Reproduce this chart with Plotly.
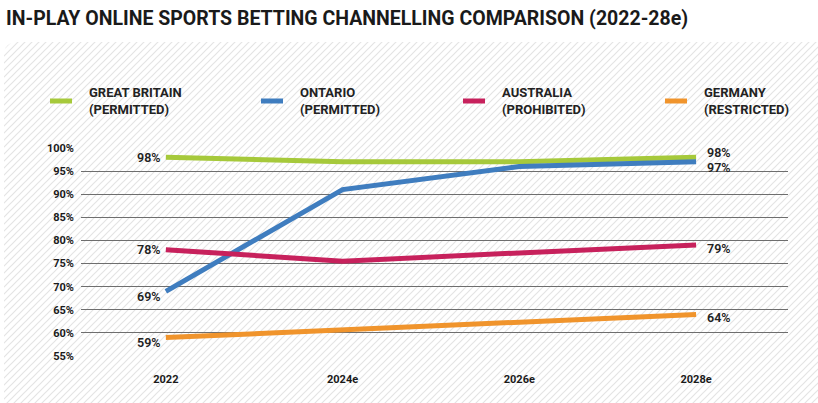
import base64
import plotly.graph_objects as go

# ---------------- data ----------------
years = ["2022", "2024e", "2026e", "2028e"]
series_names = ["GREAT BRITAIN<br>(PERMITTED)", "ONTARIO<br>(PERMITTED)",
                "AUSTRALIA<br>(PROHIBITED)", "GERMANY<br>(RESTRICTED)"]
great_britain = [98, 97, 97, 98]
ontario = [69, 91, 96, 97]
australia = [78, 75.5, 77.3, 79]
germany = [59, 60.6, 62.3, 64]
y_ticks = [55, 60, 65, 70, 75, 80, 85, 90, 95, 100]
y_tick_labels = ["55%", "60%", "65%", "70%", "75%", "80%", "85%", "90%", "95%", "100%"]

# ---------------- style ----------------
W, H = 818, 403
ML, MR, MT, MB = 81, 30, 147, 46
colors = ["#a6c93b", "#3f7dbf", "#c7215c", "#f0942c"]
first_shift = [0, -5, 0, -5]
last_shift = [5, -6, -3, -3]
legend_x0 = [50, 261, 463, 665]   # px, left of legend swatch
legend_y = 101                    # px
plot_w = W - ML - MR
plot_h = H - MT - MB


def px_x(px):
    return (px - ML) / plot_w


def px_y(py):
    return 1 + (MT - py) / plot_h


values = [great_britain, ontario, australia, germany]

fig = go.Figure()
for name, vals, col in zip(series_names, values, colors):
    fig.add_trace(go.Scatter(
        x=years, y=vals, name=name.replace("<br>", " "), mode="lines",
        line=dict(color=col, width=5),
        hoverinfo="skip", showlegend=False,
    ))

label_font = dict(family="Roboto", size=12.5, color="#222222", weight=600)
last_i = len(years) - 1
for i, vals in enumerate(values):
    fig.add_annotation(x=0, y=vals[0], text=f"{round(vals[0])}%",
                       showarrow=False, xanchor="right", yanchor="middle",
                       xshift=-3, yshift=first_shift[i], font=label_font)
    fig.add_annotation(x=last_i, y=vals[-1], text=f"{round(vals[-1])}%",
                       showarrow=False, xanchor="left", yanchor="middle",
                       xshift=9, yshift=last_shift[i], font=label_font)

# custom legend
for name, col, lx in zip(series_names, colors, legend_x0):
    fig.add_shape(type="line", xref="paper", yref="paper",
                  x0=px_x(lx), x1=px_x(lx + 22), y0=px_y(legend_y), y1=px_y(legend_y),
                  line=dict(color=col, width=5))
    fig.add_annotation(xref="paper", yref="paper", x=px_x(lx + 37), y=px_y(legend_y),
                       text=name, showarrow=False, xanchor="left", yanchor="middle",
                       align="left",
                       font=dict(family="Roboto", size=13, color="#222222", weight=700))

# hatched background panel as an inline SVG image
pw, ph = W - 4, H - 42
svg = f'''<svg xmlns="http://www.w3.org/2000/svg" width="{pw}" height="{ph}">
<defs><pattern id="h" width="7" height="7" patternUnits="userSpaceOnUse">
<path d="M-1,1 l2,-2 M0,7 l7,-7 M6,8 l2,-2" stroke="#e4e4e4" stroke-width="1.2"/>
</pattern></defs>
<rect x="0" y="0" width="{pw + 20}" height="{ph + 20}" rx="12" ry="12" fill="url(#h)"/>
</svg>'''
src = "data:image/svg+xml;base64," + base64.b64encode(svg.encode()).decode()
fig.add_layout_image(
    source=src, xref="paper", yref="paper",
    x=px_x(4), y=px_y(42),
    sizex=pw / plot_w, sizey=ph / plot_h,
    xanchor="left", yanchor="top", sizing="stretch", layer="below",
)

fig.update_layout(
    width=W, height=H,
    margin=dict(l=ML, r=MR, t=MT, b=MB, autoexpand=False),
    paper_bgcolor="white", plot_bgcolor="rgba(0,0,0,0)",
    title=dict(text="IN-PLAY ONLINE SPORTS BETTING CHANNELLING COMPARISON (2022-28e)",
               x=0, xref="container", xanchor="left",
               y=1 - 18 / H, yref="container", yanchor="middle",
               pad=dict(l=6, t=0, b=0, r=0),
               font=dict(family="Roboto", size=19.5, color="#1a1a1a", weight=700)),
    font=dict(family="Roboto", color="#222222"),
    showlegend=False,
    xaxis=dict(type="category", range=[-0.48, 3.52], showgrid=False,
               showline=False, zeroline=False, ticks="",
               tickfont=dict(family="Roboto", size=11, color="#1a1a1a", weight=700),
               ticklabelstandoff=14, fixedrange=True),
    yaxis=dict(range=[54.8, 100.2], tickvals=y_ticks, ticktext=y_tick_labels,
               showgrid=True, gridcolor="#6e6e6e", gridwidth=1.2,
               zeroline=False, showline=False, ticks="",
               tickfont=dict(family="Roboto", size=11, color="#1a1a1a", weight=700),
               ticklabelstandoff=6, fixedrange=True),
)

fig.write_html("out.html", config={"displayModeBar": False},
               post_script="document.body.style.margin='0';document.body.style.overflow='hidden';")
